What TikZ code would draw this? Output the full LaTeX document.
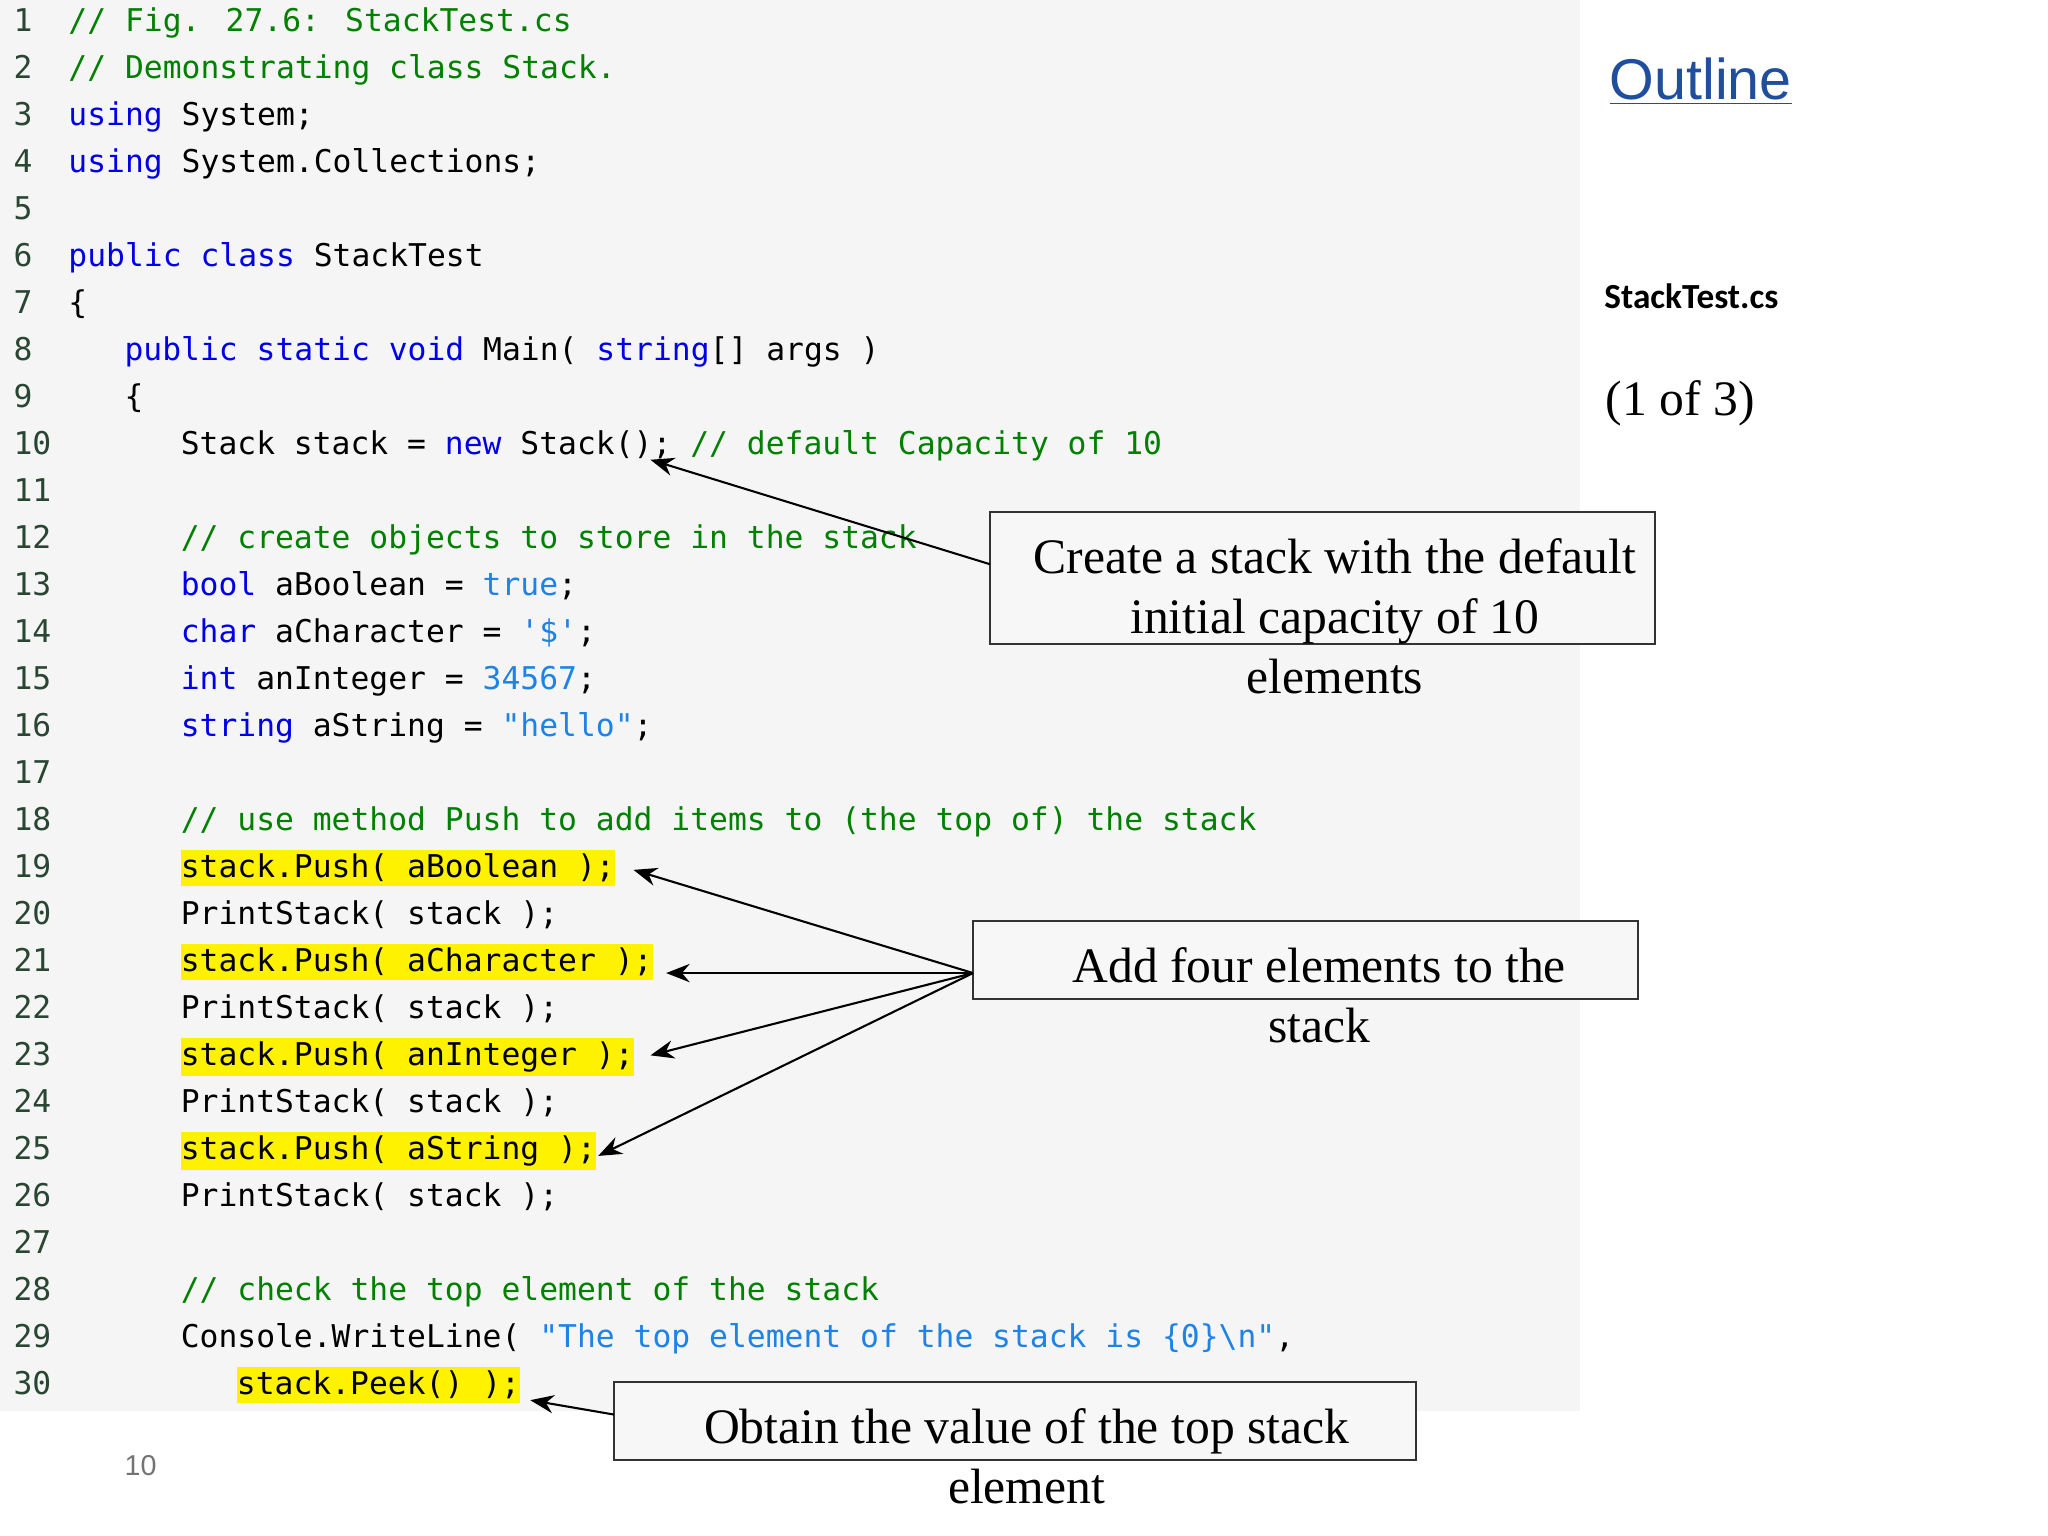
\documentclass[tikz,border=0pt]{standalone}
\usepackage{fontspec}
\setmainfont{Liberation Serif}
\newfontfamily\cd{DejaVu Sans Mono}
\newfontfamily\sns{Liberation Sans}
\newfontfamily\cbr{Carlito}
\usetikzlibrary{arrows.meta}
\definecolor{kwc}{RGB}{0,0,230}
\definecolor{cmc}{RGB}{0,128,0}
\definecolor{litc}{RGB}{30,130,230}
\definecolor{lnc}{RGB}{40,70,50}
\definecolor{outc}{RGB}{31,78,156}
\newcommand{\kw}[1]{\textcolor{kwc}{#1}}
\newcommand{\cmt}[1]{\textcolor{cmc}{#1}}
\newcommand{\lt}[1]{\textcolor{litc}{#1}}
\begin{document}
\begin{tikzpicture}[x=0.5pt,y=-0.5pt,
 code/.style={anchor=base west,inner sep=0pt,font=\cd\fontsize{12}{14}\selectfont},
 hl/.style={code,fill=yellow,inner ysep=1.5pt},
 ln/.style={code,text=lnc},
 box/.style={draw=black!80,fill=black!3,line width=0.6pt},
 call/.style={font=\fontsize{19}{23}\selectfont,align=center,inner sep=0pt},
 arr/.style={-{Stealth[length=9,width=7]},line width=0.8pt}]
\useasboundingbox (0,0) rectangle (1568,1176);
\fill[black!4] (0,0) rectangle (1210,1080);
\foreach \n in {1,...,30}{\node[ln] (l\n) at (10,{24+36*(\n-1)}) {\n};}
\node[code] (c1) at (52,24) {\cmt{// Fig. 27.6: StackTest.cs}};
\node[code] (c2) at (52,60) {\cmt{// Demonstrating class Stack.}};
\node[code] (c3) at (52,96) {\kw{using} System;};
\node[code] (c4) at (52,132) {\kw{using} System.Collections;};
\node[code] (c6) at (52,204) {\kw{public class} StackTest};
\node[code] (c7) at (52,240) {\{};
\node[code] (c8) at (95,276) {\kw{public static void} Main( \kw{string}[] args )};
\node[code] (c9) at (95,312) {\{};
\node[code] (c10) at (138,348) {Stack stack = \kw{new} Stack(); \cmt{// default Capacity of 10}};
\node[code] (c12) at (138,420) {\cmt{// create objects to store in the stack}};
\node[code] (c13) at (138,456) {\kw{bool} aBoolean = \lt{true};};
\node[code] (c14) at (138,492) {\kw{char} aCharacter = \lt{'\$'};};
\node[code] (c15) at (138,528) {\kw{int} anInteger = \lt{34567};};
\node[code] (c16) at (138,564) {\kw{string} aString = \lt{"hello"};};
\node[code] (c18) at (138,636) {\cmt{// use method Push to add items to (the top of) the stack}};
\node[hl] (c19) at (138,672) {stack.Push( aBoolean );};
\node[code] (c20) at (138,708) {PrintStack( stack );};
\node[hl] (c21) at (138,744) {stack.Push( aCharacter );};
\node[code] (c22) at (138,780) {PrintStack( stack );};
\node[hl] (c23) at (138,816) {stack.Push( anInteger );};
\node[code] (c24) at (138,852) {PrintStack( stack );};
\node[hl] (c25) at (138,888) {stack.Push( aString );};
\node[code] (c26) at (138,924) {PrintStack( stack );};
\node[code] (c28) at (138,996) {\cmt{// check the top element of the stack}};
\node[code] (c29) at (138,1032) {Console.WriteLine( \lt{"The top element of the stack is \{0\}\textbackslash n"},};
\node[hl] (c30) at (181,1068) {stack.Peek() );};
% right panel
\node[anchor=base west,inner sep=0pt,text=outc,font=\sns\fontsize{22}{26}\selectfont] (out) at (1232,76) {\underline{Outline}};
\node[anchor=base west,inner sep=0pt,font=\cbr\bfseries\fontsize{13.5}{16}\selectfont] (fn) at (1228,236) {StackTest.cs};
\node[anchor=base west,inner sep=0pt,font=\fontsize{19}{23}\selectfont] (pg) at (1229,318) {(1 of 3)};
\node[anchor=base west,inner sep=0pt,text=black!55,font=\sns\fontsize{11}{13}\selectfont] (num) at (95,1130) {10};
% callouts
\draw[box] (758,392) rectangle (1267,493);
\node[call] (t1) at (1022,472) {Create a stack with the default\\initial capacity of 10\\elements};
\coordinate (b1) at (758,432);
\coordinate (a1) at (498,352);
\draw[arr] (b1) -- (a1);
\draw[box] (745,705) rectangle (1254,765);
\node[call] (t2) at (1010,762) {Add four elements to the\\stack};
\coordinate (b2) at (745,745);
\coordinate (a19) at (485,666);
\coordinate (a21) at (510,745);
\coordinate (a23) at (498,808);
\coordinate (a25) at (458,885);
\foreach \t in {a19,a21,a23,a25}{\draw[arr] (b2) -- (\t);}
\draw[box] (470,1058) rectangle (1084,1118);
\node[call] (t3) at (786,1115) {Obtain the value of the top stack\\element};
\coordinate (b3) at (470,1083);
\coordinate (a30) at (406,1072);
\draw[arr] (b3) -- (a30);
\end{tikzpicture}
\end{document}
